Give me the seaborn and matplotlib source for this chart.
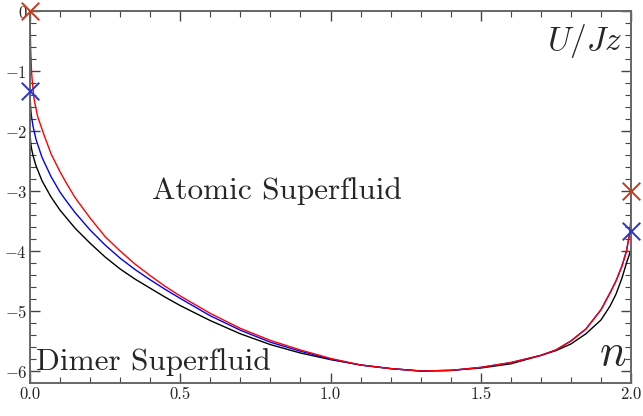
import pandas as pd
import matplotlib.pyplot as plt
import seaborn as sns

# Phase boundary curves (n, U/Jz)
black_n = [0.0, 0.002, 0.005, 0.01, 0.02, 0.04, 0.07, 0.1, 0.12, 0.15, 0.2, 0.25, 0.3, 0.35, 0.4, 0.45,
           0.5, 0.6, 0.7, 0.8, 0.9, 1.0, 1.1, 1.2, 1.3, 1.4, 1.5, 1.6, 1.7, 1.75, 1.8,
           1.85, 1.9, 1.93, 1.95, 1.97, 1.985, 1.995, 2.0]
black_u = [-2.0, -2.18, -2.29, -2.41, -2.58, -2.83, -3.10, -3.32, -3.44, -3.62, -3.87, -4.10, -4.30, -4.47, -4.62, -4.77,
           -4.91, -5.16, -5.38, -5.56, -5.70, -5.81, -5.90, -5.96, -6.0, -5.99, -5.95, -5.88, -5.74, -5.66, -5.55,
           -5.38, -5.15, -4.92, -4.72, -4.45, -4.20, -4.05, -3.98]

blue_n = [0.0, 0.002, 0.005, 0.01, 0.02, 0.04, 0.07, 0.1, 0.12, 0.15, 0.2, 0.25, 0.3, 0.35, 0.4, 0.45,
          0.5, 0.6, 0.7, 0.8, 0.9, 1.0, 1.1, 1.2, 1.3, 1.4, 1.5, 1.6, 1.7, 1.75, 1.8,
          1.85, 1.9, 1.93, 1.95, 1.97, 1.985, 1.995, 2.0]
blue_u = [-1.33, -1.61, -1.76, -1.92, -2.14, -2.44, -2.76, -3.02, -3.16, -3.36, -3.65, -3.90, -4.12, -4.31, -4.48, -4.64,
          -4.79, -5.08, -5.32, -5.52, -5.67, -5.80, -5.90, -5.96, -6.0, -5.99, -5.94, -5.86, -5.74, -5.65, -5.50,
          -5.30, -4.98, -4.70, -4.50, -4.25, -4.00, -3.72, -3.67]

red_n = [0.0, 0.002, 0.005, 0.008, 0.014, 0.025, 0.044, 0.07, 0.1, 0.12, 0.15, 0.2, 0.25, 0.3, 0.35, 0.4, 0.45,
         0.5, 0.6, 0.7, 0.8, 0.9, 1.0, 1.1, 1.2, 1.3, 1.4, 1.5, 1.6, 1.7, 1.75, 1.8,
         1.85, 1.9, 1.93, 1.95, 1.97, 1.985, 1.995, 1.999, 2.0]
red_u = [0.0, -0.6, -1.0, -1.2, -1.48, -1.75, -2.03, -2.38, -2.68, -2.86, -3.11, -3.45, -3.76, -4.0, -4.22, -4.41, -4.59,
         -4.75, -5.04, -5.29, -5.49, -5.65, -5.79, -5.90, -5.96, -6.0, -5.99, -5.94, -5.86, -5.74, -5.65, -5.50,
         -5.30, -4.98, -4.70, -4.50, -4.25, -4.00, -3.72, -3.5, -3.0]

# end points marked with crosses
red_pts_n = [0.0, 2.0]
red_pts_u = [0.0, -3.0]
blue_pts_n = [0.0, 2.0]
blue_pts_u = [-1.33, -3.67]

df = pd.concat([
    pd.DataFrame({'n': black_n, 'U': black_u, 'curve': 'black'}),
    pd.DataFrame({'n': blue_n, 'U': blue_u, 'curve': 'blue'}),
    pd.DataFrame({'n': red_n, 'U': red_u, 'curve': 'red'}),
])

sns.set_style('ticks')
plt.rcParams['font.family'] = ['cmr10', 'DejaVu Serif']
plt.rcParams['mathtext.fontset'] = 'cm'
plt.rcParams['axes.formatter.use_mathtext'] = True

fig = plt.figure(figsize=(6.43, 4.16), dpi=100)
ax = fig.add_axes([30 / 643, 33 / 416, 601 / 643, 372 / 416])

sns.lineplot(data=df, x='n', y='U', hue='curve', palette={'black': 'black', 'blue': 'blue', 'red': 'red'},
             sort=False, estimator=None, linewidth=1.0, legend=False, ax=ax)
sns.scatterplot(x=red_pts_n, y=red_pts_u, marker='x', s=160, color='#c8391d', linewidth=1.4,
                ax=ax, clip_on=False, zorder=5)
sns.scatterplot(x=blue_pts_n, y=blue_pts_u, marker='x', s=160, color='#2a35cc', linewidth=1.4,
                ax=ax, clip_on=False, zorder=5)

ax.set_xlim(0, 2)
ax.set_ylim(-6.2, 0)
ax.set_xticks([0.0, 0.5, 1.0, 1.5, 2.0])
ax.set_xticklabels(['0.0', '0.5', '1.0', '1.5', '2.0'])
ax.set_yticks([0, -1, -2, -3, -4, -5, -6])
ax.set_xticks([i / 10 for i in range(21)], minor=True)
ax.set_yticks([-i / 5 for i in range(31)], minor=True)
ax.tick_params(which='both', direction='in', top=True, right=True, color='#444444',
               labelsize=12, pad=3)
ax.tick_params(which='major', length=7, width=1.0)
ax.tick_params(which='minor', length=4, width=0.8)
ax.tick_params(axis='y', pad=2)
for s in ax.spines.values():
    s.set_color('#666666')
    s.set_linewidth(1.4)
ax.set_xlabel('')
ax.set_ylabel('')

ax.text(0.405, -3.0, 'Atomic Superfluid', fontsize=22.5, ha='left', va='center')
ax.text(0.02, -5.85, 'Dimer Superfluid', fontsize=22.5, ha='left', va='center')
ax.text(1.97, -0.5, r'$U/Jz$', fontsize=24, ha='right', va='center')
ax.text(1.985, -5.72, r'$n$', fontsize=32, ha='right', va='center')

fig.savefig('out.png', dpi=100)
plt.close(fig)
